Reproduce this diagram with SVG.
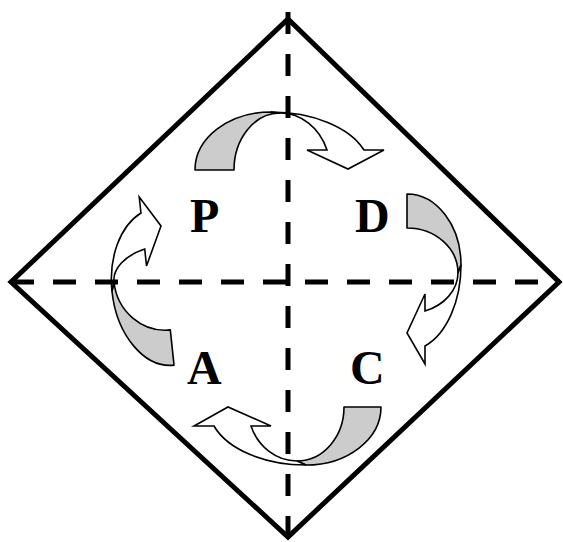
<svg xmlns="http://www.w3.org/2000/svg" width="563" height="542" viewBox="0 0 563 542">
  <style>
    .frame { fill: none; stroke: #000; stroke-width: 5; stroke-linejoin: miter; }
    .axis { fill: none; stroke: #000; stroke-width: 5; }
    .back { fill: #cccccc; stroke: #000; stroke-width: 1.6; stroke-linejoin: round; }
    .front { fill: #ffffff; stroke: #000; stroke-width: 1.6; stroke-linejoin: miter; }
    .lbl { font-family: "Liberation Serif", "Times New Roman", serif; font-weight: bold; font-size: 48px; fill: #000; }
  </style>
  <rect width="563" height="542" fill="#ffffff"/>
  <g id="frame">
    <polygon class="frame" points="288,19 559,282 288,537 11,282"/>
  </g>
  <g id="connectors">
    <g id="arrow-P-D">
      <path class="back" d="M195,170 A76,58 0 0 1 271,112 L280,113 A46,57 0 0 0 234,170 Z"/>
      <path class="front" d="M280,113 A50,57 0 0 1 327,150 L307,150 L348,169 L384,150 L364,150 A99,58 0 0 0 271,112 Z"/>
    </g>
    <g id="arrow-D-C">
      <path class="back" d="M407,194 A54,71 0 0 1 461,265 L458,273 A51,45 0 0 0 407,228 Z"/>
      <path class="front" d="M458,273 A51,41 0 0 1 425,311 L425,294 L407,333 L425,364 L425,346 A54,86 0 0 0 461,265 Z"/>
    </g>
    <g id="arrow-C-A">
      <path class="back" d="M381,407 A75,58 0 0 1 306,465 L297,461 A47,54 0 0 0 344,407 Z"/>
      <path class="front" d="M297,461 A49,54 0 0 1 251,426 L271,426 L228,407 L194,426 L214,426 A97,58 0 0 0 306,465 Z"/>
    </g>
    <g id="arrow-A-P" transform="rotate(-6 114 282)">
      <path class="back" d="M165,371 A54,80 0 0 1 111,291 L114,282 A51,53.5 0 0 0 165,335.5 Z"/>
      <path class="front" d="M114,282 A51,31.3 0 0 1 148,252.4 L148,269.5 L166.6,231.2 L148,200.1 L148,216.2 A54,79 0 0 0 111,291 Z"/>
    </g>
  </g>
  <g id="axes">
    <line class="axis" x1="288" y1="12" x2="288" y2="542" stroke-dasharray="22 20"/>
    <line class="axis" x1="11" y1="282" x2="560" y2="282" stroke-dasharray="23 19"/>
  </g>
  <g id="node-P"><text class="lbl" x="190" y="232">P</text></g>
  <g id="node-D"><text class="lbl" x="355" y="232">D</text></g>
  <g id="node-A"><text class="lbl" x="187" y="384">A</text></g>
  <g id="node-C"><text class="lbl" x="350" y="384">C</text></g>
</svg>
